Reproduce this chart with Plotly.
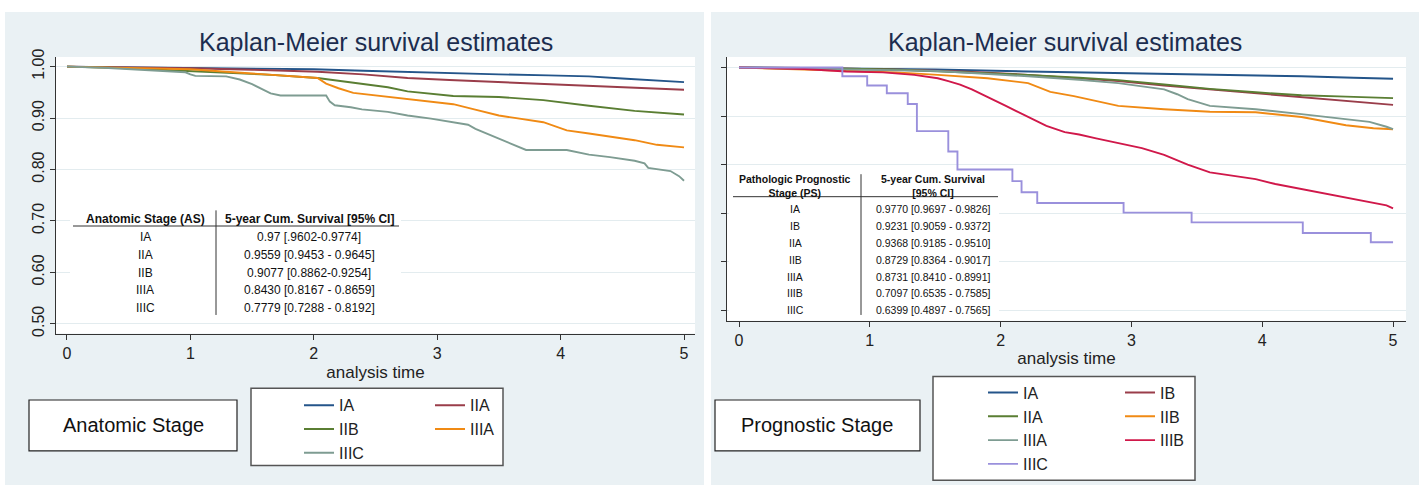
import plotly.graph_objects as go

W, H = 1428, 491

# ---------------- data: Anatomic Stage (left) ----------------
as_IA_t = [0, 0.5, 1.0, 1.5, 2.0, 2.4, 2.8, 3.13, 3.5, 3.9, 4.23, 4.5, 4.78, 5.0]
as_IA_s = [1.0, 0.999, 0.998, 0.997, 0.995, 0.992, 0.989, 0.987, 0.985, 0.983, 0.981, 0.977, 0.973, 0.970]
as_IIA_t = [0, 0.5, 1.0, 1.5, 2.03, 2.4, 2.76, 3.1, 3.5, 3.9, 4.23, 4.6, 5.0]
as_IIA_s = [1.0, 0.999, 0.997, 0.994, 0.990, 0.985, 0.978, 0.974, 0.970, 0.966, 0.962, 0.958, 0.955]
as_IIB_t = [0, 0.5, 0.93, 1.3, 1.66, 2.03, 2.2, 2.39, 2.6, 2.76, 2.95, 3.13, 3.5, 3.86, 4.23, 4.6, 5.0]
as_IIB_s = [1.0, 0.997, 0.992, 0.988, 0.984, 0.978, 0.973, 0.967, 0.960, 0.952, 0.947, 0.943, 0.941, 0.935, 0.924, 0.914, 0.907]
as_IIIA_t = [0, 0.56, 1.0, 1.29, 1.7, 2.03, 2.1, 2.2, 2.32, 2.58, 2.76, 3.13, 3.3, 3.5, 3.86, 4.05, 4.23, 4.6, 4.78, 5.0]
as_IIIA_s = [1.0, 0.998, 0.995, 0.990, 0.984, 0.978, 0.967, 0.958, 0.949, 0.942, 0.937, 0.927, 0.917, 0.905, 0.892, 0.876, 0.870, 0.857, 0.848, 0.843]
as_IIIC_t = [0, 0.3, 0.74, 0.96, 1.0, 1.04, 1.29, 1.35, 1.4, 1.5, 1.59, 1.65, 1.73, 2.1, 2.13, 2.17, 2.3, 2.39, 2.6,
             2.76, 2.95, 3.13, 3.25, 3.31, 3.4, 3.49, 3.6, 3.68, 3.72, 4.05, 4.23, 4.4, 4.6, 4.68, 4.71, 4.89, 4.96, 5.0]
as_IIIC_s = [1.0, 0.998, 0.992, 0.989, 0.985, 0.982, 0.981, 0.978, 0.975, 0.966, 0.956, 0.948, 0.944, 0.944, 0.932,
             0.925, 0.921, 0.917, 0.912, 0.905, 0.899, 0.892, 0.887, 0.879, 0.870, 0.860, 0.850, 0.842, 0.838, 0.838,
             0.829, 0.824, 0.817, 0.812, 0.803, 0.797, 0.787, 0.778]

# ---------------- data: Prognostic Stage (right) ----------------
ps_IA_t = [0, 0.5, 1.0, 1.5, 2.21, 2.7, 3.25, 3.8, 4.3, 4.7, 5.0]
ps_IA_s = [1.0, 0.999, 0.998, 0.996, 0.992, 0.990, 0.987, 0.985, 0.982, 0.979, 0.977]
ps_IB_t = [0, 0.5, 1.17, 1.7, 2.21, 2.6, 2.9, 3.25, 3.6, 3.95, 4.3, 4.64, 5.0]
ps_IB_s = [1.0, 0.999, 0.996, 0.992, 0.985, 0.978, 0.972, 0.963, 0.955, 0.946, 0.938, 0.930, 0.923]
ps_IIA_t = [0, 0.5, 1.17, 1.7, 2.21, 2.6, 2.9, 3.25, 3.6, 3.95, 4.3, 4.64, 5.0]
ps_IIA_s = [1.0, 0.999, 0.996, 0.991, 0.985, 0.979, 0.974, 0.965, 0.956, 0.949, 0.943, 0.940, 0.937]
ps_IIB_t = [0, 0.58, 0.82, 1.2, 1.52, 1.9, 2.21, 2.3, 2.38, 2.56, 2.75, 2.9, 3.25, 3.6, 3.95, 4.3, 4.64, 4.85, 5.0]
ps_IIB_s = [1.0, 0.995, 0.993, 0.990, 0.985, 0.978, 0.968, 0.958, 0.950, 0.941, 0.930, 0.921, 0.914, 0.909, 0.908, 0.898, 0.881, 0.875, 0.873]
ps_IIIA_t = [0, 0.8, 1.52, 2.21, 2.6, 2.9, 3.25, 3.35, 3.43, 3.6, 3.95, 4.3, 4.64, 4.82, 4.95, 5.0]
ps_IIIA_s = [1.0, 0.997, 0.993, 0.982, 0.975, 0.968, 0.955, 0.945, 0.935, 0.921, 0.914, 0.904, 0.894, 0.888, 0.878, 0.873]
ps_IIIB_t = [0, 0.5, 0.82, 1.1, 1.34, 1.52, 1.6, 1.69, 1.78, 1.86, 1.95, 2.04, 2.12, 2.21, 2.35, 2.49, 2.6, 2.73,
             2.9, 3.08, 3.25, 3.43, 3.6, 3.8, 3.95, 4.1, 4.3, 4.5, 4.64, 4.82, 4.95, 5.0]
ps_IIIB_s = [1.0, 0.997, 0.992, 0.990, 0.985, 0.978, 0.972, 0.965, 0.955, 0.945, 0.933, 0.921, 0.910, 0.898, 0.880,
             0.867, 0.862, 0.854, 0.845, 0.834, 0.820, 0.800, 0.784, 0.776, 0.770, 0.760, 0.750, 0.740, 0.733, 0.723,
             0.716, 0.710]
ps_IIIC_t = [0, 0.79, 0.98, 1.13, 1.29, 1.36, 1.60, 1.67, 2.09, 2.16, 2.28, 2.94, 3.46, 4.31, 4.83, 5.0]
ps_IIIC_s = [1.0, 0.982, 0.963, 0.947, 0.925, 0.869, 0.827, 0.790, 0.766, 0.743, 0.721, 0.701, 0.681, 0.659, 0.640, 0.640]

# ---------------- tables / labels ----------------
as_table_stage = ["IA", "IIA", "IIB", "IIIA", "IIIC"]
as_table_surv = ["0.97 [.9602-0.9774]", "0.9559 [0.9453 - 0.9645]", "0.9077 [0.8862-0.9254]",
                 "0.8430 [0.8167 - 0.8659]", "0.7779 [0.7288 - 0.8192]"]
ps_table_stage = ["IA", "IB", "IIA", "IIB", "IIIA", "IIIB", "IIIC"]
ps_table_surv = ["0.9770 [0.9697 - 0.9826]", "0.9231 [0.9059 - 0.9372]", "0.9368 [0.9185 - 0.9510]",
                 "0.8729 [0.8364 - 0.9017]", "0.8731 [0.8410 - 0.8991]", "0.7097 [0.6535 - 0.7585]",
                 "0.6399 [0.4897 - 0.7565]"]
x_ticks = [0, 1, 2, 3, 4, 5]
y_ticks = [0.5, 0.6, 0.7, 0.8, 0.9, 1.0]
y_ticktext = ["0.50", "0.60", "0.70", "0.80", "0.90", "1.00"]

NAVY, MAROON, GREEN, ORANGE, TEAL, CRAN, LAV = "#24558a", "#9a3d4a", "#5a7e33", "#f08a14", "#7e9c92", "#d0184a", "#9a90dc"
FONT = "Liberation Sans, Arial, sans-serif"

def px(x):
    return x / W

def py(y):
    return 1 - y / H

fig = go.Figure()

left_series = [("IA", as_IA_t, as_IA_s, NAVY, "legend"), ("IIA", as_IIA_t, as_IIA_s, MAROON, "legend2"),
               ("IIB", as_IIB_t, as_IIB_s, GREEN, "legend"), ("IIIA", as_IIIA_t, as_IIIA_s, ORANGE, "legend2"),
               ("IIIC", as_IIIC_t, as_IIIC_s, TEAL, "legend")]
for name, t, s, c, lg in left_series:
    fig.add_trace(go.Scatter(x=t, y=s, mode="lines", name=name, legend=lg,
                             line=dict(color=c, width=1.9, shape="linear"), xaxis="x", yaxis="y"))

right_series = [("IA", ps_IA_t, ps_IA_s, NAVY, "legend3", "linear"), ("IB", ps_IB_t, ps_IB_s, MAROON, "legend4", "linear"),
                ("IIA", ps_IIA_t, ps_IIA_s, GREEN, "legend3", "linear"), ("IIB", ps_IIB_t, ps_IIB_s, ORANGE, "legend4", "linear"),
                ("IIIA", ps_IIIA_t, ps_IIIA_s, TEAL, "legend3", "linear"), ("IIIB", ps_IIIB_t, ps_IIIB_s, CRAN, "legend4", "linear"),
                ("IIIC", ps_IIIC_t, ps_IIIC_s, LAV, "legend3", "hv")]
for name, t, s, c, lg, shp in right_series:
    fig.add_trace(go.Scatter(x=t, y=s, mode="lines", name=name, legend=lg, legendgroup="r" + name,
                             line=dict(color=c, width=1.9, shape=shp), xaxis="x2", yaxis="y2"))

axis_common = dict(ticks="outside", ticklen=5, tickcolor="#333", showline=True, linecolor="#333",
                   linewidth=1, zeroline=False, tickfont=dict(family=FONT, size=16, color="#222"))

fig.update_layout(
    width=W, height=H, margin=dict(l=0, r=0, t=0, b=0),
    paper_bgcolor="white", plot_bgcolor="white", showlegend=True,
    xaxis=dict(domain=[px(56), px(695)], range=[-0.089, 5.089], tickvals=x_ticks, showgrid=False,
               anchor="y", title=dict(text="analysis time", font=dict(family=FONT, size=17, color="#222"), standoff=5),
               **axis_common),
    yaxis=dict(domain=[py(333), py(50)], range=[0.481, 1.019], tickvals=y_ticks, ticktext=y_ticktext,
               tickangle=-90, showgrid=True, gridcolor="#e3ecef", gridwidth=1, anchor="x", **axis_common),
    xaxis2=dict(domain=[px(727), px(1406)], range=[-0.0917, 5.099], tickvals=x_ticks, showgrid=False,
                anchor="y2", title=dict(text="analysis time", font=dict(family=FONT, size=17, color="#222"), standoff=4),
                **axis_common),
    yaxis2=dict(domain=[py(320), py(50)], range=[0.478, 1.022], tickvals=y_ticks, showticklabels=False,
                showgrid=True, gridcolor="#e3ecef", gridwidth=1, anchor="x2", **axis_common),
)

leg_common = dict(font=dict(family=FONT, size=16, color="#222"), bgcolor="rgba(0,0,0,0)", borderwidth=0,
                  xanchor="left", yanchor="top", orientation="v", traceorder="normal")
fig.update_layout(
    legend=dict(x=px(299), y=py(389), tracegroupgap=0, **leg_common),
    legend2=dict(x=px(430), y=py(389), tracegroupgap=0, **leg_common),
    legend3=dict(x=px(983), y=py(376), tracegroupgap=2, **leg_common),
    legend4=dict(x=px(1120), y=py(376), tracegroupgap=2, **leg_common),
)

shapes = []
BG = "#eaf1f4"
shapes.append(dict(type="rect", xref="paper", yref="paper", x0=px(5), x1=px(704), y0=py(488), y1=py(4),
                   fillcolor=BG, line=dict(width=0), layer="below"))
shapes.append(dict(type="rect", xref="paper", yref="paper", x0=px(711), x1=px(1419), y0=py(488), y1=py(4),
                   fillcolor=BG, line=dict(width=0), layer="below"))
for xa, ya in (("x", "y"), ("x2", "y2")):
    shapes.append(dict(type="rect", xref=xa + " domain", yref=ya + " domain", x0=0, x1=1, y0=0, y1=1,
                       fillcolor="white", line=dict(width=0), layer="below"))

# table backgrounds (between gridlines and curves), positioned in pixels
def lx(p): return (p - 67) / 123.4
def ly(p): return 1 - (p - 60) / 526
def rx(p): return (p - 739) / 130.8
def ry(p): return 1 - (p - 61) / 496

shapes.append(dict(type="rect", xref="x", yref="y", x0=lx(70), x1=lx(401), y0=ly(318), y1=ly(204),
                   fillcolor="white", line=dict(width=0), layer="between"))
shapes.append(dict(type="rect", xref="x2", yref="y2", x0=rx(729), x1=rx(999), y0=ry(317), y1=ry(167),
                   fillcolor="white", line=dict(width=0), layer="between"))

# table rules
LINEC = "#333"
shapes += [
    dict(type="line", xref="paper", yref="paper", x0=px(73), x1=px(399), y0=py(223), y1=py(223), line=dict(color=LINEC, width=1), layer="above"),
    dict(type="line", xref="paper", yref="paper", x0=px(216), x1=px(216), y0=py(207), y1=py(314), line=dict(color=LINEC, width=1), layer="above"),
    dict(type="line", xref="paper", yref="paper", x0=px(733), x1=px(998), y0=py(193), y1=py(193), line=dict(color=LINEC, width=1), layer="above"),
    dict(type="line", xref="paper", yref="paper", x0=px(861), x1=px(861), y0=py(170), y1=py(314), line=dict(color=LINEC, width=1), layer="above"),
]
# legend frames and stage label boxes
shapes += [
    dict(type="rect", xref="paper", yref="paper", x0=px(251), x1=px(503), y0=py(468), y1=py(389),
         fillcolor="white", line=dict(color="#555", width=1.5), layer="below"),
    dict(type="rect", xref="paper", yref="paper", x0=px(933), x1=px(1195), y0=py(483), y1=py(377),
         fillcolor="white", line=dict(color="#555", width=1.5), layer="below"),
    dict(type="rect", xref="paper", yref="paper", x0=px(29), x1=px(237), y0=py(453), y1=py(401),
         fillcolor="white", line=dict(color="#222", width=1.2), layer="below"),
    dict(type="rect", xref="paper", yref="paper", x0=px(715), x1=px(920), y0=py(453), y1=py(401),
         fillcolor="white", line=dict(color="#222", width=1.2), layer="below"),
]
fig.update_layout(shapes=shapes)

ann = []
def text(x, y, s, size, color="#111", bold=False):
    ann.append(dict(xref="paper", yref="paper", x=px(x), y=py(y), text=("<b>%s</b>" % s) if bold else s,
                    showarrow=False, xanchor="center", yanchor="middle",
                    font=dict(family=FONT, size=size, color=color)))

TITLEC = "#1c2d4f"
text(376, 35, "Kaplan-Meier survival estimates", 25, TITLEC)
text(1065, 35, "Kaplan-Meier survival estimates", 25, TITLEC)
text(133, 427, "Anatomic Stage", 20)
text(817, 427, "Prognostic Stage", 20)

# left table
text(145, 216, "Anatomic Stage (AS)", 12, bold=True)
text(309, 216, "5-year Cum. Survival [95% CI]", 12, bold=True)
for i, (a, b) in enumerate(zip(as_table_stage, as_table_surv)):
    yy = 234 + i * 18.3
    text(145, yy, a, 12)
    text(309, yy, b, 12)

# right table
text(795, 182, "Pathologic Prognostic<br>Stage (PS)", 10.5, bold=True)
text(933, 182, "5-year Cum. Survival<br>[95% CI]", 10.5, bold=True)
for i, (a, b) in enumerate(zip(ps_table_stage, ps_table_surv)):
    yy = 206 + i * 17.2
    text(795, yy, a, 10.5)
    text(933, yy, b, 10.5)

fig.update_layout(annotations=ann)
fig.write_html("out.html")
